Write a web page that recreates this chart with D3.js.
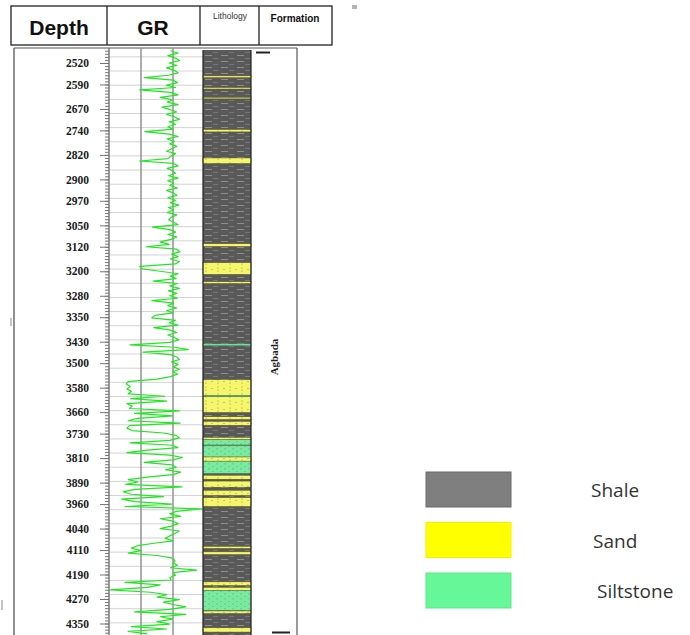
<!DOCTYPE html>
<html lang="en">
<head>
<meta charset="utf-8">
<title>Well log</title>
<style>
  body { margin: 0; background: #fff; }
  svg { display: block; }
  .hdr { font-family: "Liberation Sans", Arial, sans-serif; font-weight: bold; fill: #111; }
  .depth .tick text { font-family: "Liberation Serif", "Times New Roman", serif; font-weight: bold; font-size: 11.5px; fill: #1a1a1a; }
  .depth .tick line, .minor .tick line { stroke: #777; }
  .legend text { font-family: "Open Sans", sans-serif; font-size: 19px; fill: #333; }
</style>
</head>
<body>
<svg id="log" width="690" height="635"></svg>
<script src="https://d3js.org/d3.v7.min.js"></script>
<script>
// depth labels on the left track
var depthTicks = [2520, 2590, 2670, 2740, 2820, 2900, 2970, 3050, 3120, 3200, 3280, 3350,
                  3430, 3500, 3580, 3660, 3730, 3810, 3890, 3960, 4040, 4110, 4190, 4270, 4350];

// GR curve, one reading every 8 m from 2480 m (API)
var grTop = 2480, grStep = 8;
var grValues = [
  96, 108, 92, 104, 110, 94, 106, 90, 102, 108,
  93, 55, 100, 107, 90, 104, 48, 96, 108, 80,
  99, 91, 108, 83, 95, 106, 90, 103, 110, 94,
  104, 92, 100, 56, 94, 108, 91, 102, 95, 106,
  98, 90, 104, 97, 92, 48, 101, 108, 91, 99,
  104, 93, 108, 92, 101, 95, 107, 90, 100, 106,
  92, 104, 96, 109, 93, 101, 91, 106, 97, 93,
  101, 108, 68, 95, 104, 92, 106, 97, 80, 94,
  58, 106, 111, 98, 108, 96, 110, 104, 48, 52,
  80, 108, 96, 105, 69, 107, 95, 110, 93, 106,
  95, 107, 67, 101, 92, 106, 90, 100, 72, 67,
  104, 94, 108, 70, 96, 106, 92, 102, 109, 95,
  33, 103, 124, 53, 96, 106, 110, 98, 108, 101,
  110, 100, 107, 96, 75, 30, 27, 33, 28, 35,
  30, 87, 34, 90, 28, 36, 32, 110, 40, 100,
  45, 30, 111, 32, 28, 36, 85, 105, 110, 95,
  33, 100, 108, 60, 28, 95, 115, 100, 55, 98,
  105, 88, 112, 100, 60, 30, 45, 26, 114, 40,
  22, 35, 85, 20, 40, 98, 25, 145, 105, 95,
  112, 80, 100, 108, 97, 80, 110, 103, 95, 88,
  100, 70, 45, 35, 50, 30, 75, 98, 103, 100,
  107, 96, 137, 100, 104, 95, 97, 25, 80, 60,
  2, 65, 90, 75, 110, 85, 100, 120, 95, 40,
  120, 80, 100, 75, 95, 35, 90, 30, 60
];

// lithology beds [top, base] in m, shale everywhere else
var sandBeds = [[2562, 2568], [2600, 2605], [2632, 2637], [2737, 2745], [2830, 2848],
                [3110, 3119], [3172, 3210], [3234, 3240], [3554, 3605], [3609, 3661],
                [3675, 3684], [3690, 3703], [3742, 3750], [3767, 3770], [3806, 3820],
                [3866, 3879], [3885, 3905], [3915, 3932], [3939, 3968], [4098, 4105],
                [4116, 4125], [4214, 4226], [4232, 4242], [4309, 4317], [4364, 4378]];
var siltBeds = [[3437, 3443], [3605, 3609], [3750, 3767], [3770, 3806], [3820, 3860], [4242, 4307]];

var formationName = 'Agbada';
var legendNames = ['Shale', 'Sand', 'Siltstone'];
var legendColors = ['#7f7f7f', '#ffff00', '#66f799'];
var legendStrokes = ['#6a6a6a', '#f0f000', '#5fe58c'];

var svg = d3.select('#log');
var bodyTop = 48, bodyBottom = 635;
var trackL = 109, trackR = 203, lithL = 203, lithR = 251, formR = 297;

var y = d3.scaleLinear().domain([2520, 4350]).range([63, 623.5]);
var x = d3.scaleLinear().domain([0, 150]).range([trackL, trackL + 96]);

// patterns
var defs = svg.append('defs');
var pShale = defs.append('pattern').attr('id', 'shale').attr('patternUnits', 'userSpaceOnUse')
    .attr('x', lithL).attr('y', 0).attr('width', 16).attr('height', 6);
pShale.append('rect').attr('width', 16).attr('height', 6).attr('fill', '#595959');
pShale.append('line').attr('x1', 2).attr('x2', 9).attr('y1', 1.5).attr('y2', 1.5).attr('stroke', '#8e8e8e');
pShale.append('line').attr('x1', 10).attr('x2', 15).attr('y1', 4.5).attr('y2', 4.5).attr('stroke', '#797979');

var pSand = defs.append('pattern').attr('id', 'sand').attr('patternUnits', 'userSpaceOnUse')
    .attr('x', lithL).attr('y', 0).attr('width', 12).attr('height', 7);
pSand.append('rect').attr('width', 12).attr('height', 7).attr('fill', '#f6f66a');
[[3, 2], [3, 5], [9, 3.5]].forEach(function(p) {
  pSand.append('circle').attr('cx', p[0]).attr('cy', p[1]).attr('r', 0.6).attr('fill', '#8a8a50');
});

var pSilt = defs.append('pattern').attr('id', 'silt').attr('patternUnits', 'userSpaceOnUse')
    .attr('x', lithL).attr('y', 0).attr('width', 8).attr('height', 5);
pSilt.append('rect').attr('width', 8).attr('height', 5).attr('fill', '#79eaa0');
pSilt.append('circle').attr('cx', 2).attr('cy', 1.5).attr('r', 0.6).attr('fill', '#5aa878');
pSilt.append('circle').attr('cx', 6).attr('cy', 3.8).attr('r', 0.6).attr('fill', '#5aa878');

defs.append('clipPath').attr('id', 'trackclip')
  .append('rect').attr('x', trackL).attr('y', bodyTop).attr('width', trackR - trackL).attr('height', bodyBottom - bodyTop);

// header
var hdr = svg.append('g');
hdr.append('rect').attr('x', 11).attr('y', 6).attr('width', 321).attr('height', 39)
  .attr('fill', 'none').attr('stroke', '#222').attr('stroke-width', 1.3);
[107, 200, 259].forEach(function(px) {
  hdr.append('line').attr('x1', px).attr('x2', px).attr('y1', 6).attr('y2', 45)
    .attr('stroke', '#222').attr('stroke-width', 1.3);
});
hdr.append('text').attr('class', 'hdr').attr('x', 59).attr('y', 35).attr('text-anchor', 'middle')
  .attr('font-size', 21).text('Depth');
hdr.append('text').attr('class', 'hdr').attr('x', 153).attr('y', 35).attr('text-anchor', 'middle')
  .attr('font-size', 21).text('GR');
hdr.append('text').attr('x', 230).attr('y', 19).attr('text-anchor', 'middle')
  .attr('font-family', 'Liberation Sans, Arial, sans-serif').attr('font-size', 8.5).attr('fill', '#333')
  .text('Lithology');
hdr.append('text').attr('class', 'hdr').attr('x', 295).attr('y', 22).attr('text-anchor', 'middle')
  .attr('font-size', 10).text('Formation');

// body frame
var body = svg.append('g');
body.append('line').attr('x1', 14).attr('x2', 14).attr('y1', bodyTop).attr('y2', bodyBottom)
  .attr('stroke', '#555').attr('stroke-width', 1.3);
body.append('line').attr('x1', 14).attr('x2', formR).attr('y1', bodyTop).attr('y2', bodyTop)
  .attr('stroke', '#555').attr('stroke-width', 1);

// GR grid
var gridDepths = d3.range(2500, 4380, 46.2);
body.selectAll('.hgrid').data(gridDepths).enter().append('line')
  .attr('x1', trackL).attr('x2', trackR)
  .attr('y1', function(d) { return y(d); }).attr('y2', function(d) { return y(d); })
  .attr('stroke', '#d2d2d2').attr('stroke-width', 1);
body.selectAll('.vgrid').data([50, 100]).enter().append('line')
  .attr('x1', function(d) { return x(d); }).attr('x2', function(d) { return x(d); })
  .attr('y1', bodyTop).attr('y2', bodyBottom)
  .attr('stroke', '#8a8a8a').attr('stroke-width', 1.4);

// depth axis
var minor = body.append('g').attr('class', 'minor').attr('transform', 'translate(' + trackL + ',0)')
  .call(d3.axisLeft(y).tickValues(d3.range(2480, 4390, 10)).tickSize(4).tickFormat(''));
minor.select('.domain').remove();
var dax = body.append('g').attr('class', 'depth').attr('transform', 'translate(' + trackL + ',0)')
  .call(d3.axisLeft(y).tickValues(depthTicks).tickSize(9).tickFormat(d3.format('d')));
dax.select('.domain').remove();
dax.selectAll('.tick text').attr('x', -20);
body.append('line').attr('x1', trackL).attr('x2', trackL).attr('y1', bodyTop).attr('y2', bodyBottom)
  .attr('stroke', '#666').attr('stroke-width', 1.3);

// GR curve
var line = d3.line()
  .x(function(d) { return x(d); })
  .y(function(d, i) { return y(grTop + i * grStep); });
body.append('path').datum(grValues)
  .attr('clip-path', 'url(#trackclip)')
  .attr('d', line)
  .attr('fill', 'none').attr('stroke', '#22e622').attr('stroke-width', 1.2)
  .attr('stroke-linejoin', 'round');

// lithology
var lith = body.append('g');
lith.append('rect').attr('x', lithL).attr('y', 50).attr('width', lithR - lithL).attr('height', bodyBottom - 50)
  .attr('fill', 'url(#shale)');
lith.selectAll('.sand').data(sandBeds).enter().append('rect')
  .attr('x', lithL).attr('width', lithR - lithL)
  .attr('y', function(d) { return y(d[0]); })
  .attr('height', function(d) { return y(d[1]) - y(d[0]); })
  .attr('fill', 'url(#sand)').attr('stroke', '#55552a').attr('stroke-width', 0.5);
lith.selectAll('.silt').data(siltBeds).enter().append('rect')
  .attr('x', lithL).attr('width', lithR - lithL)
  .attr('y', function(d) { return y(d[0]); })
  .attr('height', function(d) { return y(d[1]) - y(d[0]); })
  .attr('fill', 'url(#silt)').attr('stroke', '#3d6a4d').attr('stroke-width', 0.4);
[lithL, lithR].forEach(function(px) {
  lith.append('line').attr('x1', px).attr('x2', px).attr('y1', 50).attr('y2', bodyBottom)
    .attr('stroke', '#222').attr('stroke-width', 1.2);
});

// formation column
body.append('line').attr('x1', formR).attr('x2', formR).attr('y1', bodyTop).attr('y2', bodyBottom)
  .attr('stroke', '#555').attr('stroke-width', 1.2);
body.append('line').attr('x1', 256).attr('x2', 270).attr('y1', 52.5).attr('y2', 52.5)
  .attr('stroke', '#222').attr('stroke-width', 2);
body.append('line').attr('x1', 272).attr('x2', 290).attr('y1', 632.5).attr('y2', 632.5)
  .attr('stroke', '#222').attr('stroke-width', 2);
body.append('text')
  .attr('transform', 'translate(278,357) rotate(-90)')
  .attr('text-anchor', 'middle')
  .attr('font-family', 'Liberation Serif, Times New Roman, serif').attr('font-weight', 'bold')
  .attr('font-size', 11).attr('fill', '#222')
  .text(formationName);

// stray marks from the scan
svg.append('rect').attr('x', 352).attr('y', 5).attr('width', 5).attr('height', 4).attr('fill', '#b5b5b5');
svg.append('line').attr('x1', 11).attr('x2', 11).attr('y1', 318).attr('y2', 326).attr('stroke', '#888');
svg.append('line').attr('x1', 2).attr('x2', 2).attr('y1', 600).attr('y2', 610).attr('stroke', '#888');

// legend
var legend = svg.append('g').attr('class', 'legend');
var legY = d3.scalePoint().domain(legendNames).range([490, 591]);
var legTextX = [591, 593, 597];
legendNames.forEach(function(name, i) {
  legend.append('rect').attr('x', 426).attr('y', legY(name) - 18).attr('width', 85).attr('height', 35)
    .attr('fill', legendColors[i]).attr('stroke', legendStrokes[i]).attr('stroke-width', 1);
  legend.append('text').attr('x', legTextX[i]).attr('y', legY(name) + 7).text(name);
});
</script>
</body>
</html>
